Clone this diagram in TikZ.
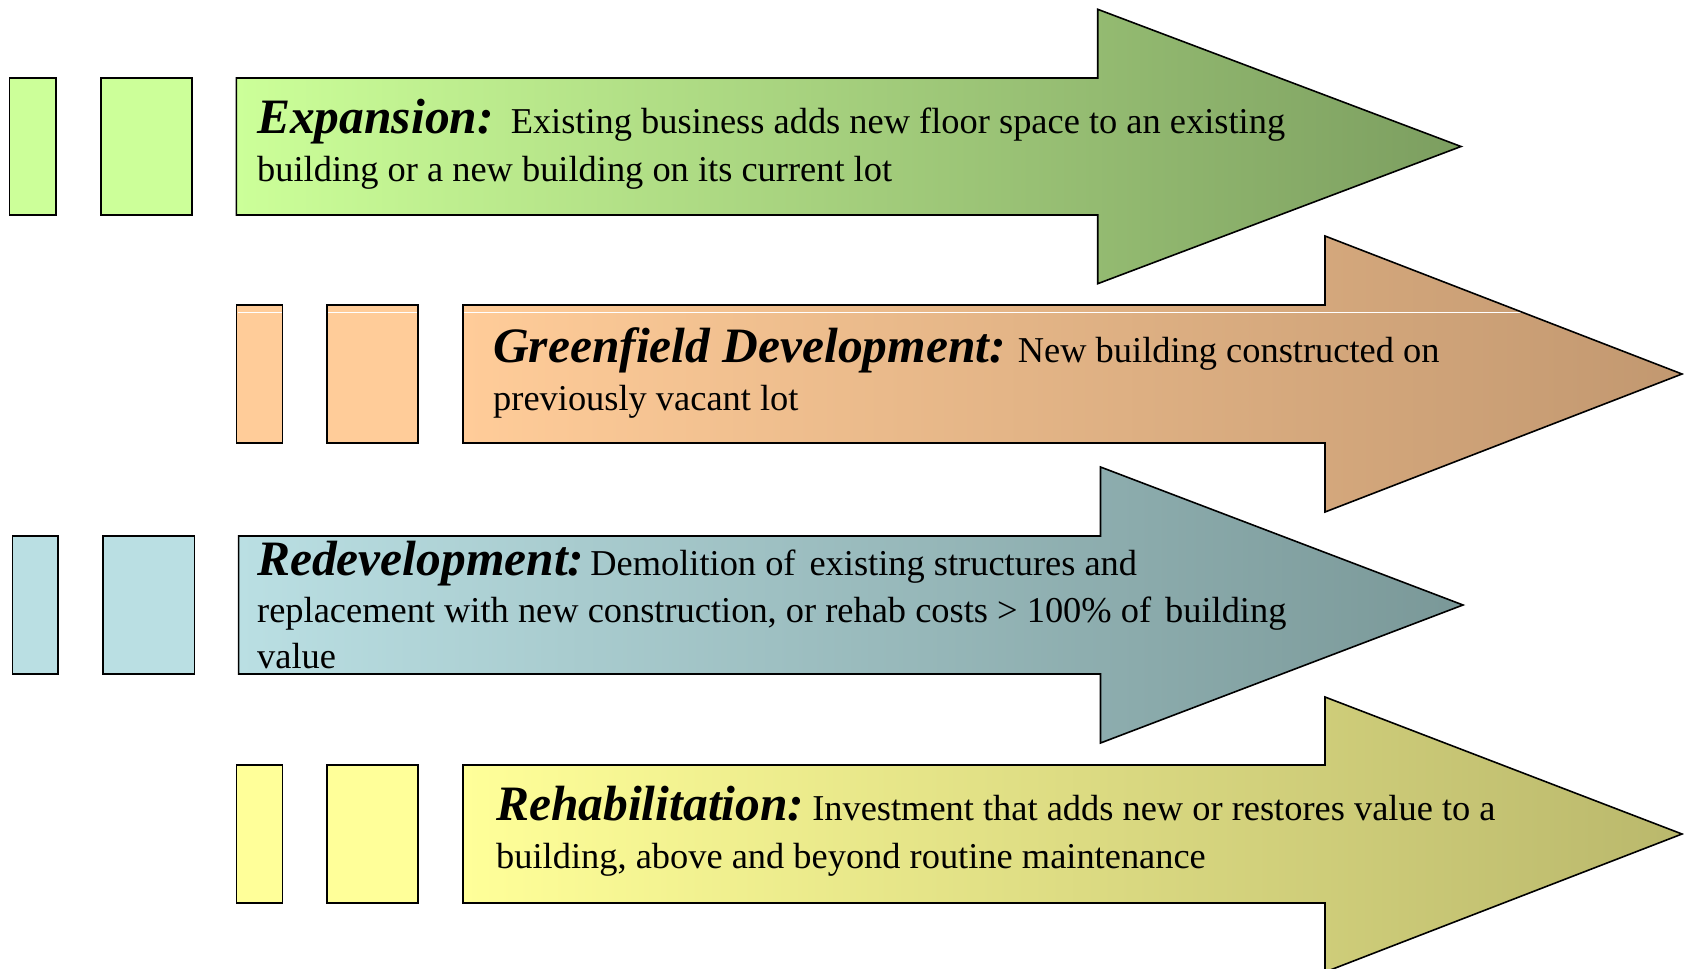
\documentclass[tikz,border=0pt]{standalone}
\usepackage{fontspec}
\setmainfont{Liberation Serif}
\newcommand\headword[1]{{\fontsize{49.5}{49.5}\selectfont\bfseries\itshape #1}}
\begin{document}
\begin{tikzpicture}[x=1pt,y=-1pt,
  outline/.style={draw=black, line width=1.6pt, line join=miter},
  label/.style={anchor=base west, inner sep=0pt, text=black,
    font=\fontsize{36.4}{48}\selectfont},
  greenA/.style={left color=grnL, right color=grnR},
  orangeB/.style={left color=orgL, right color=orgR},
  blueC/.style={left color=bluL, right color=bluR},
  yellowD/.style={left color=yelL, right color=yelR}]
\definecolor{grnL}{RGB}{204,255,153}
\definecolor{grnR}{RGB}{124,158,96}
\definecolor{orgL}{RGB}{255,204,153}
\definecolor{orgR}{RGB}{194,152,112}
\definecolor{bluL}{RGB}{186,223,227}
\definecolor{bluR}{RGB}{122,152,152}
\definecolor{yelL}{RGB}{255,255,153}
\definecolor{yelR}{RGB}{186,184,108}

\useasboundingbox (0,0) rectangle (1684,969);

% ---------- Expansion ----------
\fill[grnL] (9.6,78) rectangle (55.7,215);
\draw[outline] (9.6,78) rectangle (55.7,215);
\fill[grnL] (100.7,78) rectangle (191.8,215);
\draw[outline] (100.7,78) rectangle (191.8,215);
\draw[outline, greenA] (236.4,78) -- (1097.7,78) -- (1097.7,9.3) -- (1461,146.5)
  -- (1097.7,283.7) -- (1097.7,215) -- (236.4,215) -- cycle;
\node[label] (expA1) at (257,133) {\headword{Expansion:}\hspace{17pt}Existing business adds new floor space to an existing};
\node[label] (expA2) at (257,181) {building or a new building on its current lot};

% ---------- Greenfield Development ----------
\fill[orgL] (236.4,305) rectangle (282.5,443);
\fill[orgL] (327,305) rectangle (418,443);
\shade[orangeB] (463,305) -- (1325,305) -- (1325,236) -- (1682,374)
  -- (1325,512) -- (1325,443) -- (463,443) -- cycle;
\draw[white, line width=0.8pt] (237.5,312.3) -- (281.5,312.3)
  (328,312.3) -- (417,312.3) (464,312.3) -- (1521,312.3);
\draw[outline] (236.4,305) rectangle (282.5,443);
\draw[outline] (327,305) rectangle (418,443);
\draw[outline] (463,305) -- (1325,305) -- (1325,236) -- (1682,374)
  -- (1325,512) -- (1325,443) -- (463,443) -- cycle;
\node[label] (grnB1) at (493,362) {\headword{Greenfield Development:}\hspace{12pt}New building constructed on};
\node[label] (grnB2) at (493,410) {previously vacant lot};

% ---------- Redevelopment ----------
\fill[bluL] (12.5,536) rectangle (58.2,674);
\draw[outline] (12.5,536) rectangle (58.2,674);
\fill[bluL] (103,536) rectangle (194.6,674);
\draw[outline] (103,536) rectangle (194.6,674);
\draw[outline, blueC] (238.6,536) -- (1100.5,536) -- (1100.5,467) -- (1463,605)
  -- (1100.5,743) -- (1100.5,674) -- (238.6,674) -- cycle;
\node[label] (redC1) at (257,575) {\headword{Redevelopment:}\hspace{6pt}Demolition of\hspace{14pt}existing structures and};
\node[label] (redC2) at (257,622) {replacement with new construction, or rehab costs > 100\% of\hspace{14pt}building};
\node[label] (redC3) at (257,668) {value};

% ---------- Rehabilitation ----------
\fill[yelL] (236.4,765) rectangle (282.5,903);
\draw[outline] (236.4,765) rectangle (282.5,903);
\fill[yelL] (327,765) rectangle (418,903);
\draw[outline] (327,765) rectangle (418,903);
\draw[outline, yellowD] (463,765) -- (1325,765) -- (1325,697) -- (1682,834)
  -- (1325,972) -- (1325,903) -- (463,903) -- cycle;
\node[label] (rehD1) at (496,820) {\headword{Rehabilitation:}\hspace{8pt}Investment that adds new or restores value to a};
\node[label] (rehD2) at (496,868) {building, above and beyond routine maintenance};
\end{tikzpicture}
\end{document}
